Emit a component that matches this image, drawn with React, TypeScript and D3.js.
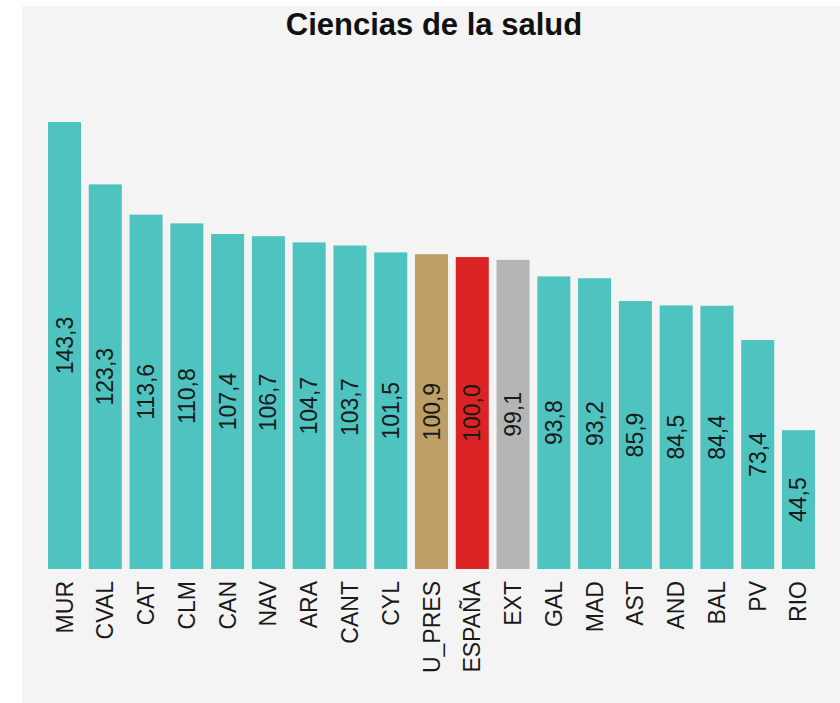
import React, { useEffect, useRef } from 'react';
import * as d3 from 'd3';

const regions = ['MUR', 'CVAL', 'CAT', 'CLM', 'CAN', 'NAV', 'ARA', 'CANT', 'CYL', 'U_PRES', 'ESPAÑA', 'EXT', 'GAL', 'MAD', 'AST', 'AND', 'BAL', 'PV', 'RIO'];
const values = [143.3, 123.3, 113.6, 110.8, 107.4, 106.7, 104.7, 103.7, 101.5, 100.9, 100.0, 99.1, 93.8, 93.2, 85.9, 84.5, 84.4, 73.4, 44.5];
const highlight: Record<string, string> = { U_PRES: '#bd9e64', 'ESPAÑA': '#dc2323', EXT: '#b5b5b5' };
const baseColor = '#4ec3bf';
const title = 'Ciencias de la salud';

const App = () => {
  const svgRef = useRef<SVGSVGElement>(null);

  useEffect(() => {
    const width = 840;
    const height = 703;
    const svg = d3.select(svgRef.current);
    svg.selectAll('*').remove();
    svg.attr('width', width).attr('height', height);

    svg.append('rect')
      .attr('x', 22).attr('y', 6)
      .attr('width', width - 22).attr('height', height - 6)
      .attr('fill', '#f4f4f4');

    const data = regions.map((r, i) => ({ r, v: values[i] }));

    const x = d3.scaleBand<string>()
      .domain(regions)
      .range([44, 819])
      .paddingInner(0.19)
      .paddingOuter(0.098);

    const y = d3.scaleLinear()
      .domain([0, d3.max(values) as number])
      .range([569, 122]);

    const font = '"Liberation Sans", Arial, sans-serif';

    svg.append('text')
      .attr('x', 434).attr('y', 35)
      .attr('text-anchor', 'middle')
      .attr('font-family', font)
      .attr('font-weight', 'bold')
      .attr('font-size', 31)
      .attr('fill', '#111')
      .text(title);

    svg.selectAll('.bar')
      .data(data)
      .enter().append('rect')
      .attr('class', 'bar')
      .attr('x', d => x(d.r) as number)
      .attr('y', d => y(d.v))
      .attr('width', x.bandwidth())
      .attr('height', d => y(0) - y(d.v))
      .attr('fill', d => highlight[d.r] || baseColor);

    svg.selectAll('.val')
      .data(data)
      .enter().append('text')
      .attr('class', 'val')
      .attr('transform', d => `translate(${(x(d.r) as number) + x.bandwidth() / 2},${(y(d.v) + y(0)) / 2}) rotate(-90)`)
      .attr('text-anchor', 'middle')
      .attr('dominant-baseline', 'central')
      .attr('font-family', font)
      .attr('font-size', 23)
      .attr('fill', '#1a1a1a')
      .text(d => d.v.toFixed(1).replace('.', ','));

    svg.selectAll('.lbl')
      .data(data)
      .enter().append('text')
      .attr('class', 'lbl')
      .attr('transform', d => `translate(${(x(d.r) as number) + x.bandwidth() / 2},${y(0) + 12}) rotate(-90)`)
      .attr('text-anchor', 'end')
      .attr('dominant-baseline', 'central')
      .attr('font-family', font)
      .attr('font-size', 23)
      .attr('fill', '#1a1a1a')
      .text(d => d.r);
  }, []);

  return <svg ref={svgRef} style={{ position: 'absolute', left: 0, top: 0 }}></svg>;
};

export default App;
